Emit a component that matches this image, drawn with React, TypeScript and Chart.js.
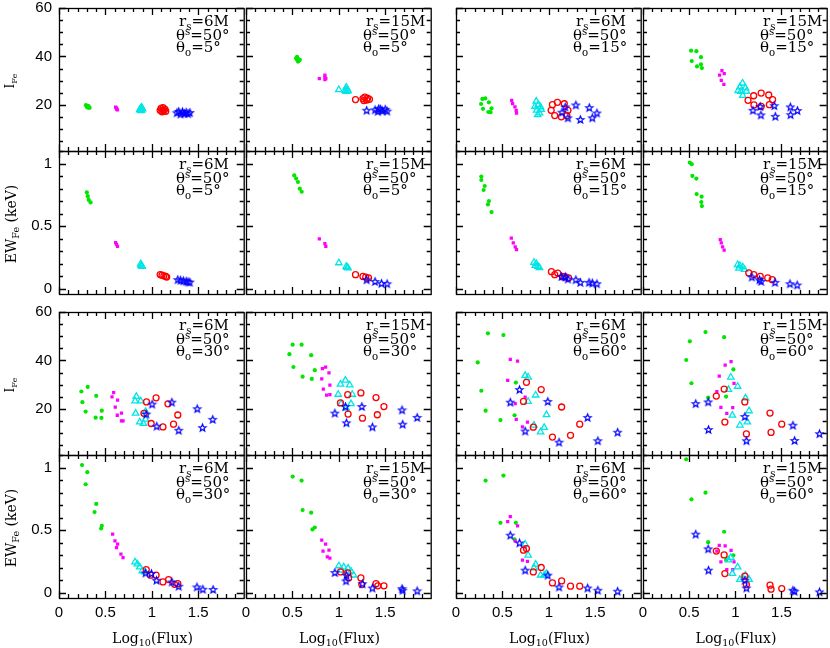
import React, { useEffect, useRef } from 'react';
import { Chart, registerables } from 'chart.js';
Chart.register(...registerables);

type Pt = [number, number];

// ---------- axis definitions ----------
const xTickLabels = [0, 0.5, 1, 1.5];
const iFeTickLabels = [20, 40, 60];
const ewTickLabels = [0, 0.5, 1];
const xRange: Pt = [0, 1.99];
const iFeRange: Pt = [1, 60];
const ewRange: Pt = [-0.04, 1.1];

// ---------- data: I_Fe, theta_o = 5 ----------
const I_6M_5 = {
  green: [[0.29, 19.9], [0.3, 19.6], [0.31, 19.3], [0.32, 19.0], [0.33, 18.8], [0.3, 19.2], [0.32, 19.5], [0.31, 18.9]] as Pt[],
  magenta: [[0.61, 19.1], [0.62, 18.7], [0.62, 18.3], [0.63, 18.0]] as Pt[],
  cyan: [[0.87, 18.0], [0.88, 18.6], [0.89, 19.0], [0.89, 17.8], [0.9, 18.3], [0.88, 17.6]] as Pt[],
  red: [[1.09, 17.8], [1.1, 18.6], [1.11, 17.2], [1.12, 18.9], [1.13, 17.6], [1.14, 18.3], [1.15, 17.4], [1.12, 18.0]] as Pt[],
  blue: [[1.27, 16.8], [1.29, 17.3], [1.31, 16.3], [1.33, 17.2], [1.35, 16.5], [1.37, 17.0], [1.39, 16.4], [1.41, 16.9]] as Pt[],
};
const I_15M_5 = {
  green: [[0.54, 39.3], [0.55, 38.6], [0.56, 39.0], [0.57, 38.2], [0.58, 38.6], [0.56, 37.9], [0.55, 39.8]] as Pt[],
  magenta: [[0.79, 30.9], [0.85, 32.3], [0.85, 31.5], [0.86, 30.9], [0.85, 30.4]] as Pt[],
  cyan: [[1.0, 26.3], [1.07, 26.0], [1.08, 27.3], [1.09, 26.5], [1.08, 25.5], [1.1, 25.8]] as Pt[],
  red: [[1.18, 22.2], [1.26, 22.6], [1.28, 23.2], [1.3, 22.0], [1.31, 22.8], [1.33, 22.3], [1.27, 21.8]] as Pt[],
  blue: [[1.3, 17.8], [1.39, 18.0], [1.42, 17.4], [1.45, 18.3], [1.47, 17.6], [1.5, 18.2], [1.52, 17.5], [1.43, 18.5]] as Pt[],
};
// ---------- I_Fe, theta_o = 15 ----------
const I_6M_15 = {
  green: [[0.284, 22.5], [0.316, 22.7], [0.27, 20.4], [0.354, 21.1], [0.291, 18.4], [0.348, 17.1], [0.383, 18.6], [0.372, 17.0]] as Pt[],
  magenta: [[0.6, 21.9], [0.61, 20.5], [0.635, 19.2], [0.649, 17.8], [0.652, 16.6]] as Pt[],
  cyan: [[0.865, 21.5], [0.886, 20.1], [0.851, 19.4], [0.91, 19.2], [0.869, 17.8], [0.9, 16.7], [0.918, 18.1], [0.88, 16.0]] as Pt[],
  red: [[1.039, 20.1], [1.093, 21.1], [1.167, 20.5], [1.025, 17.8], [1.064, 15.6], [1.135, 15.1], [1.206, 17.8], [1.195, 15.6]] as Pt[],
  blue: [[1.142, 17.0], [1.177, 19.2], [1.206, 14.7], [1.291, 20.0], [1.34, 14.0], [1.436, 18.9], [1.468, 14.7], [1.518, 16.7]] as Pt[],
};
const I_15M_15 = {
  green: [[0.521, 42.4], [0.578, 42.2], [0.628, 39.7], [0.528, 38.1], [0.628, 36.7], [0.585, 35.9], [0.638, 35.2]] as Pt[],
  magenta: [[0.855, 34.2], [0.83, 32.3], [0.88, 32.9], [0.848, 30.1], [0.876, 28.5]] as Pt[],
  cyan: [[1.078, 29.0], [1.05, 27.4], [1.11, 27.0], [1.06, 25.6], [1.12, 25.6], [1.08, 23.9], [1.03, 25.9]] as Pt[],
  red: [[1.138, 21.9], [1.199, 23.8], [1.28, 24.9], [1.362, 24.1], [1.404, 22.2], [1.369, 20.1], [1.28, 19.4], [1.202, 20.0]] as Pt[],
  blue: [[1.191, 17.8], [1.269, 19.4], [1.277, 15.9], [1.422, 19.7], [1.433, 15.3], [1.596, 19.2], [1.599, 16.0], [1.673, 17.7]] as Pt[],
};
// ---------- EW, theta_o = 5 ----------
const EW_6M_5 = {
  green: [[0.3, 0.77], [0.31, 0.74], [0.32, 0.71], [0.34, 0.69]] as Pt[],
  magenta: [[0.61, 0.37], [0.62, 0.355], [0.63, 0.34]] as Pt[],
  cyan: [[0.88, 0.2], [0.885, 0.19], [0.89, 0.185], [0.895, 0.18]] as Pt[],
  red: [[1.09, 0.115], [1.11, 0.11], [1.13, 0.105], [1.15, 0.1], [1.16, 0.095]] as Pt[],
  blue: [[1.28, 0.075], [1.31, 0.07], [1.34, 0.066], [1.37, 0.062], [1.39, 0.057], [1.41, 0.055]] as Pt[],
};
const EW_15M_5 = {
  green: [[0.52, 0.905], [0.54, 0.88], [0.56, 0.853], [0.58, 0.8], [0.6, 0.775]] as Pt[],
  magenta: [[0.79, 0.4], [0.85, 0.362], [0.86, 0.34]] as Pt[],
  cyan: [[1.0, 0.208], [1.08, 0.18], [1.09, 0.172], [1.1, 0.168]] as Pt[],
  red: [[1.18, 0.114], [1.26, 0.1], [1.29, 0.095], [1.32, 0.088]] as Pt[],
  blue: [[1.3, 0.074], [1.39, 0.06], [1.46, 0.045], [1.52, 0.042]] as Pt[],
};
// ---------- EW, theta_o = 15 ----------
const EW_6M_15 = {
  green: [[0.273, 0.896], [0.273, 0.869], [0.309, 0.821], [0.298, 0.789], [0.355, 0.701], [0.344, 0.674], [0.383, 0.613]] as Pt[],
  magenta: [[0.596, 0.405], [0.617, 0.368], [0.638, 0.336], [0.652, 0.314]] as Pt[],
  cyan: [[0.84, 0.212], [0.865, 0.202], [0.883, 0.18], [0.9, 0.17], [0.855, 0.187]] as Pt[],
  red: [[1.028, 0.138], [1.064, 0.114], [1.096, 0.127], [1.149, 0.096], [1.213, 0.088], [1.17, 0.1]] as Pt[],
  blue: [[1.138, 0.1], [1.18, 0.096], [1.206, 0.08], [1.291, 0.074], [1.34, 0.053], [1.433, 0.053], [1.468, 0.048], [1.518, 0.042]] as Pt[],
};
const EW_15M_15 = {
  green: [[0.507, 1.008], [0.528, 0.995], [0.535, 0.901], [0.578, 0.88], [0.581, 0.757], [0.635, 0.736], [0.632, 0.693], [0.638, 0.661]] as Pt[],
  magenta: [[0.837, 0.394], [0.848, 0.368], [0.862, 0.336], [0.879, 0.31]] as Pt[],
  cyan: [[1.025, 0.194], [1.05, 0.186], [1.08, 0.176], [1.1, 0.155], [1.04, 0.165]] as Pt[],
  red: [[1.146, 0.128], [1.2, 0.114], [1.27, 0.1], [1.351, 0.088], [1.4, 0.074]] as Pt[],
  blue: [[1.18, 0.096], [1.262, 0.074], [1.28, 0.061], [1.43, 0.053], [1.592, 0.042], [1.67, 0.032]] as Pt[],
};
// ---------- I_Fe, theta_o = 30 ----------
const I_6M_30 = {
  green: [[0.241, 27.2], [0.309, 29.1], [0.252, 22.8], [0.401, 25.4], [0.287, 18.9], [0.461, 19.3], [0.395, 16.4], [0.457, 16.3]] as Pt[],
  magenta: [[0.589, 26.7], [0.571, 25.0], [0.631, 23.6], [0.606, 20.8], [0.673, 18.3], [0.628, 17.4], [0.673, 15.1], [0.69, 15.1]] as Pt[],
  cyan: [[0.833, 25.1], [0.82, 23.3], [0.88, 23.3], [0.826, 18.2], [0.87, 14.6], [0.909, 14.0], [0.933, 15.7], [0.933, 18.9]] as Pt[],
  red: [[0.943, 22.9], [1.046, 24.6], [1.174, 22.1], [0.915, 18.2], [1.28, 17.5], [0.993, 14.0], [1.12, 12.6], [1.234, 13.7]] as Pt[],
  blue: [[1.003, 22.0], [1.216, 22.8], [0.94, 17.9], [1.053, 12.9], [1.29, 11.2], [1.489, 20.1], [1.546, 12.3], [1.656, 15.7]] as Pt[],
};
const I_15M_30 = {
  green: [[0.503, 46.5], [0.599, 46.5], [0.468, 42.6], [0.702, 42.2], [0.511, 37.3], [0.741, 36.0], [0.61, 33.3], [0.709, 32.4]] as Pt[],
  magenta: [[0.858, 37.3], [0.823, 36.6], [0.894, 34.9], [0.816, 32.4], [0.904, 29.8], [0.833, 28.2], [0.869, 25.7], [0.904, 25.9]] as Pt[],
  cyan: [[1.071, 31.8], [1.018, 30.2], [1.117, 29.9], [0.993, 26.0], [1.145, 26.0], [1.025, 22.1], [1.131, 22.1], [1.078, 20.3]] as Pt[],
  red: [[1.018, 22.5], [1.096, 25.9], [1.238, 26.6], [1.1, 17.9], [1.255, 16.2], [1.401, 24.7], [1.486, 21.0], [1.415, 17.6]] as Pt[],
  blue: [[0.957, 18.3], [1.071, 21.0], [1.082, 14.3], [1.248, 21.0], [1.362, 12.6], [1.681, 19.6], [1.688, 13.7], [1.844, 16.5]] as Pt[],
};
// ---------- I_Fe, theta_o = 60 ----------
const I_6M_60 = {
  green: [[0.344, 51.2], [0.511, 50.5], [0.234, 39.2], [0.645, 30.9], [0.273, 27.5], [0.319, 19.3], [0.631, 17.4], [0.479, 15.4]] as Pt[],
  magenta: [[0.585, 40.5], [0.663, 39.7], [0.557, 31.8], [0.745, 24.9], [0.638, 22.2], [0.649, 15.7], [0.77, 14.6], [0.716, 12.6]] as Pt[],
  cyan: [[0.745, 33.8], [0.777, 33.1], [0.858, 25.7], [0.777, 23.1], [0.975, 17.6], [0.84, 13.3], [0.95, 12.3], [0.911, 10.5]] as Pt[],
  red: [[0.759, 31.0], [0.918, 28.0], [0.727, 23.1], [1.138, 20.8], [0.833, 12.5], [1.333, 13.7], [1.039, 8.4], [1.234, 9.1]] as Pt[],
  blue: [[0.684, 28.0], [0.585, 22.8], [0.989, 23.1], [0.745, 10.9], [1.418, 16.5], [1.11, 6.3], [1.528, 6.9], [1.741, 10.4]] as Pt[],
};
const I_15M_60 = {
  green: [[0.677, 51.7], [0.507, 47.9], [0.879, 49.6], [0.468, 40.2], [0.979, 36.3], [0.525, 30.6], [0.706, 24.7], [0.9, 25.1]] as Pt[],
  magenta: [[0.954, 39.5], [0.89, 38.1], [0.826, 33.5], [0.986, 30.6], [0.8, 27.1], [0.844, 20.7], [0.972, 20.5], [0.908, 18.2]] as Pt[],
  cyan: [[0.951, 33.1], [1.025, 29.3], [0.926, 28.0], [1.11, 24.5], [1.149, 19.2], [0.968, 17.4], [1.13, 14.6], [1.05, 13.3]] as Pt[],
  red: [[0.794, 25.3], [0.879, 28.2], [1.103, 22.9], [0.887, 14.6], [1.376, 18.3], [1.12, 9.7], [1.387, 10.3], [1.503, 13.7]] as Pt[],
  blue: [[0.571, 22.2], [0.706, 22.9], [1.103, 16.9], [0.709, 11.5], [1.12, 6.9], [1.624, 13.3], [1.642, 7.0], [1.912, 9.8]] as Pt[],
};
// ---------- EW, theta_o = 30 ----------
const EW_6M_30 = {
  green: [[0.248, 1.02], [0.305, 0.963], [0.287, 0.867], [0.401, 0.71], [0.383, 0.645], [0.461, 0.536], [0.454, 0.514]] as Pt[],
  magenta: [[0.578, 0.469], [0.603, 0.416], [0.631, 0.389], [0.62, 0.362], [0.667, 0.309], [0.69, 0.282]] as Pt[],
  cyan: [[0.819, 0.247], [0.844, 0.231], [0.87, 0.207], [0.897, 0.176], [0.926, 0.167]] as Pt[],
  red: [[0.94, 0.187], [0.986, 0.142], [1.046, 0.142], [1.12, 0.088], [1.181, 0.107], [1.245, 0.069], [1.28, 0.074]] as Pt[],
  blue: [[0.933, 0.16], [0.996, 0.155], [1.05, 0.102], [1.216, 0.088], [1.29, 0.054], [1.486, 0.048], [1.55, 0.03], [1.66, 0.028]] as Pt[],
};
const EW_15M_30 = {
  green: [[0.503, 0.928], [0.599, 0.896], [0.61, 0.661], [0.702, 0.64], [0.716, 0.507], [0.741, 0.522]] as Pt[],
  magenta: [[0.816, 0.421], [0.858, 0.389], [0.83, 0.334], [0.894, 0.341], [0.876, 0.288], [0.904, 0.277]] as Pt[],
  cyan: [[1.0, 0.216], [1.053, 0.207], [1.1, 0.197], [1.131, 0.174], [1.16, 0.142], [1.028, 0.182]] as Pt[],
  red: [[1.018, 0.168], [1.096, 0.16], [1.106, 0.12], [1.238, 0.12], [1.248, 0.067], [1.401, 0.074], [1.42, 0.057], [1.486, 0.057]] as Pt[],
  blue: [[0.957, 0.163], [1.082, 0.142], [1.078, 0.097], [1.255, 0.074], [1.362, 0.04], [1.681, 0.035], [1.688, 0.022], [1.844, 0.017]] as Pt[],
};
// ---------- EW, theta_o = 60 ----------
const EW_6M_60 = {
  green: [[0.319, 0.896], [0.511, 0.936], [0.479, 0.559], [0.645, 0.559], [0.631, 0.427]] as Pt[],
  magenta: [[0.557, 0.568], [0.585, 0.608], [0.663, 0.534], [0.638, 0.414], [0.745, 0.368], [0.716, 0.262], [0.77, 0.252]] as Pt[],
  cyan: [[0.745, 0.389], [0.777, 0.301], [0.858, 0.229], [0.84, 0.2], [0.911, 0.142], [0.95, 0.142], [0.975, 0.155]] as Pt[],
  red: [[0.727, 0.341], [0.759, 0.354], [0.918, 0.203], [0.833, 0.168], [1.039, 0.08], [1.138, 0.096], [1.234, 0.054], [1.333, 0.054]] as Pt[],
  blue: [[0.585, 0.461], [0.684, 0.399], [0.745, 0.182], [0.989, 0.142], [1.11, 0.048], [1.418, 0.04], [1.528, 0.022], [1.741, 0.014]] as Pt[],
};
const EW_15M_60 = {
  green: [[0.468, 1.066], [0.525, 0.747], [0.677, 0.8], [0.879, 0.488], [0.706, 0.405], [0.979, 0.301], [0.9, 0.262]] as Pt[],
  magenta: [[0.826, 0.379], [0.89, 0.375], [0.954, 0.339], [0.8, 0.334], [0.986, 0.248], [0.844, 0.248], [0.908, 0.187], [0.972, 0.187]] as Pt[],
  cyan: [[0.926, 0.262], [0.951, 0.282], [1.025, 0.207], [0.968, 0.155], [1.05, 0.107], [1.11, 0.142], [1.149, 0.107]] as Pt[],
  red: [[0.794, 0.334], [0.879, 0.303], [0.887, 0.155], [1.103, 0.134], [1.12, 0.067], [1.376, 0.062], [1.387, 0.03], [1.503, 0.035]] as Pt[],
  blue: [[0.571, 0.469], [0.706, 0.352], [0.709, 0.182], [1.103, 0.102], [1.12, 0.04], [1.624, 0.022], [1.642, 0.014], [1.912, 0.009]] as Pt[],
};

type PanelData = { green: Pt[]; magenta: Pt[]; cyan: Pt[]; red: Pt[]; blue: Pt[] };

// ---------- layout ----------
const colLeft = [59, 246, 456, 643];
const colW = [187, 187, 187, 186];
const rowTop = [8, 151, 312, 455];
const rowH = 143;
const M_L = 59, M_T = 20, M_R = 3, M_B = 30;

const panels: { row: number; col: number; data: PanelData; rs: string; to: string }[] = [
  { row: 0, col: 0, data: I_6M_5, rs: '6M', to: '5' },
  { row: 0, col: 1, data: I_15M_5, rs: '15M', to: '5' },
  { row: 0, col: 2, data: I_6M_15, rs: '6M', to: '15' },
  { row: 0, col: 3, data: I_15M_15, rs: '15M', to: '15' },
  { row: 1, col: 0, data: EW_6M_5, rs: '6M', to: '5' },
  { row: 1, col: 1, data: EW_15M_5, rs: '15M', to: '5' },
  { row: 1, col: 2, data: EW_6M_15, rs: '6M', to: '15' },
  { row: 1, col: 3, data: EW_15M_15, rs: '15M', to: '15' },
  { row: 2, col: 0, data: I_6M_30, rs: '6M', to: '30' },
  { row: 2, col: 1, data: I_15M_30, rs: '15M', to: '30' },
  { row: 2, col: 2, data: I_6M_60, rs: '6M', to: '60' },
  { row: 2, col: 3, data: I_15M_60, rs: '15M', to: '60' },
  { row: 3, col: 0, data: EW_6M_30, rs: '6M', to: '30' },
  { row: 3, col: 1, data: EW_15M_30, rs: '15M', to: '30' },
  { row: 3, col: 2, data: EW_6M_60, rs: '6M', to: '60' },
  { row: 3, col: 3, data: EW_15M_60, rs: '15M', to: '60' },
];

let starImg: HTMLCanvasElement | null = null;
function getStar(): HTMLCanvasElement {
  if (starImg) return starImg;
  const c = document.createElement('canvas');
  c.width = 11; c.height = 11;
  const g = c.getContext('2d')!;
  g.strokeStyle = '#0000ff';
  g.lineWidth = 1.25;
  g.beginPath();
  for (let k = 0; k < 10; k++) {
    const r = k % 2 === 0 ? 3.7 : 1.6;
    const a = -Math.PI / 2 + (k * Math.PI) / 5;
    const px = 5.5 + r * Math.cos(a);
    const py = 5.8 + r * Math.sin(a);
    if (k === 0) g.moveTo(px, py); else g.lineTo(px, py);
  }
  g.closePath();
  g.stroke();
  starImg = c;
  return c;
}

const frameTicks = {
  id: 'frameTicks',
  afterDatasetsDraw(chart: any, _a: any, opts: any) {
    const { ctx, chartArea } = chart;
    const { left, right, top, bottom } = chartArea;
    const xs = chart.scales.x, ys = chart.scales.y;
    const isEW = opts.kind === 'EW';
    ctx.save();
    ctx.strokeStyle = '#000';
    ctx.lineWidth = 1.3;
    ctx.beginPath();
    for (let i = 0; i <= 19; i++) {
      const px = Math.round(xs.getPixelForValue(i * 0.1)) + 0.5;
      const len = i % 5 === 0 ? 7 : 4;
      ctx.moveTo(px, bottom); ctx.lineTo(px, bottom - len);
      ctx.moveTo(px, top); ctx.lineTo(px, top + len);
    }
    const n = isEW ? 11 : 12;
    for (let i = isEW ? 0 : 1; i <= n; i++) {
      const v = isEW ? i * 0.1 : i * 5;
      const py = Math.round(ys.getPixelForValue(v)) + 0.5;
      const major = isEW ? i % 5 === 0 : i % 4 === 0;
      const len = major ? 7 : 4;
      ctx.moveTo(left, py); ctx.lineTo(left + len, py);
      ctx.moveTo(right, py); ctx.lineTo(right - len, py);
    }
    ctx.stroke();
    ctx.strokeRect(left + 0.5, top + 0.5, right - left, bottom - top);
    ctx.restore();
  },
};

function Panel({ row, col, data }: { row: number; col: number; data: PanelData }) {
  const ref = useRef<HTMLCanvasElement>(null);
  const isEW = row % 2 === 1;
  const showY = col === 0;
  const showX = row === 3;
  const w = colW[col] + M_L + M_R;
  const h = rowH + M_T + M_B;
  useEffect(() => {
    const star = getStar();
    const styles = [
      { key: 'green', ps: 'circle', r: 2.1, bg: '#00e600', bc: '#00e600', bw: 0, order: 4 },
      { key: 'magenta', ps: 'rect', r: 2.3, bg: '#ff00ff', bc: '#ff00ff', bw: 0, order: 3 },
      { key: 'cyan', ps: 'triangle', r: 3.7, bg: 'rgba(0,0,0,0)', bc: '#00e5e5', bw: 1.3, order: 2 },
      { key: 'red', ps: 'circle', r: 3.0, bg: 'rgba(0,0,0,0)', bc: '#ff0000', bw: 1.3, order: 1 },
      { key: 'blue', ps: star as any, r: 4, bg: 'rgba(0,0,0,0)', bc: '#0000ff', bw: 1, order: 0 },
    ];
    const yTicks = isEW ? ewTickLabels : iFeTickLabels;
    const yR = isEW ? ewRange : iFeRange;
    const tickFont = { family: '"Liberation Sans", Arial, sans-serif', size: 15 };
    const chart = new Chart(ref.current!, {
      type: 'scatter',
      data: {
        datasets: styles.map((s) => ({
          label: s.key,
          data: (data as any)[s.key].map((p: Pt) => ({ x: p[0], y: p[1] })),
          pointStyle: s.ps,
          pointRadius: s.r,
          pointBackgroundColor: s.bg,
          pointBorderColor: s.bc,
          pointBorderWidth: s.bw,
          order: s.order,
        })) as any,
      },
      options: {
        responsive: false,
        maintainAspectRatio: false,
        animation: false,
        events: [],
        layout: { padding: { left: showY ? 0 : M_L, top: M_T, right: M_R, bottom: showX ? 0 : M_B } },
        plugins: { legend: { display: false }, tooltip: { enabled: false }, frameTicks: { kind: isEW ? 'EW' : 'I' } } as any,
        scales: {
          x: {
            type: 'linear', min: xRange[0], max: xRange[1], display: showX, position: 'bottom',
            grid: { display: false, drawTicks: false }, border: { display: false },
            ticks: { padding: 6, color: '#000', font: tickFont, autoSkip: false, maxRotation: 0, callback: (v: any) => String(v) },
            afterBuildTicks: (s: any) => { s.ticks = xTickLabels.map((v) => ({ value: v })); },
            afterFit: (s: any) => { s.height = showX ? M_B : 0; },
          },
          y: {
            type: 'linear', min: yR[0], max: yR[1], display: showY, position: 'left',
            grid: { display: false, drawTicks: false }, border: { display: false },
            ticks: { padding: 7, color: '#000', font: tickFont, autoSkip: false, callback: (v: any) => String(v) },
            afterBuildTicks: (s: any) => { s.ticks = yTicks.map((v) => ({ value: v })); },
            afterFit: (s: any) => { s.width = showY ? M_L : 0; },
          },
        } as any,
      },
      plugins: [frameTicks as any],
    });
    return () => chart.destroy();
  }, []);
  return (
    <canvas
      ref={ref}
      width={w}
      height={h}
      style={{ position: 'absolute', left: colLeft[col] - M_L, top: rowTop[row] - M_T, width: w, height: h }}
    />
  );
}

const serif = '"DejaVu Serif", "Liberation Serif", serif';
const subS: React.CSSProperties = { fontSize: '68%', position: 'relative', top: '0.35em', lineHeight: 0 };
const supS: React.CSSProperties = { fontSize: '68%', position: 'relative', top: '-0.45em', lineHeight: 0 };

function Annot({ row, col, rs, to }: { row: number; col: number; rs: string; to: string }) {
  const left = colLeft[col] + 117;
  const top = rowTop[row];
  const base: React.CSSProperties = { position: 'absolute', left, fontFamily: serif, fontSize: 15, lineHeight: '14px', whiteSpace: 'nowrap', color: '#000' };
  return (
    <>
      <div style={{ ...base, top: top + 6, left: left + 3 }}>r<span style={subS}>s</span>={rs}</div>
      <div style={{ ...base, top: top + 20 }}>θ<span style={supS}>s</span>=50°</div>
      <div style={{ ...base, top: top + 32 }}>θ<span style={subS}>o</span>={to}°</div>
    </>
  );
}

function YTitle({ row, ew }: { row: number; ew: boolean }) {
  const cy = rowTop[row] + rowH / 2 + (ew ? 1 : 1);
  return (
    <div style={{ position: 'absolute', left: ew ? 11 : 10, top: cy, transform: 'translate(-50%,-50%) rotate(-90deg)', fontFamily: serif, fontSize: ew ? 14 : 12, whiteSpace: 'nowrap', color: '#000', lineHeight: '16px' }}>
      {ew ? <>EW<span style={subS}>Fe</span> (keV)</> : <>I<span style={subS}>Fe</span></>}
    </div>
  );
}

export default function App() {
  return (
    <div style={{ position: 'fixed', left: 0, top: 0, width: 830, height: 648, overflow: 'hidden', background: '#fff' }}>
      {panels.map((p, i) => <Panel key={i} row={p.row} col={p.col} data={p.data} />)}
      {panels.map((p, i) => <Annot key={'a' + i} row={p.row} col={p.col} rs={p.rs} to={p.to} />)}
      {[0, 1, 2, 3].map((r) => <YTitle key={'y' + r} row={r} ew={r % 2 === 1} />)}
      {[0, 1, 2, 3].map((c) => (
        <div key={'x' + c} style={{ position: 'absolute', left: colLeft[c], width: colW[c], top: 630, textAlign: 'center', fontFamily: serif, fontSize: 14, lineHeight: '16px', color: '#000' }}>
          Log<span style={subS}>10</span>(Flux)
        </div>
      ))}
    </div>
  );
}
